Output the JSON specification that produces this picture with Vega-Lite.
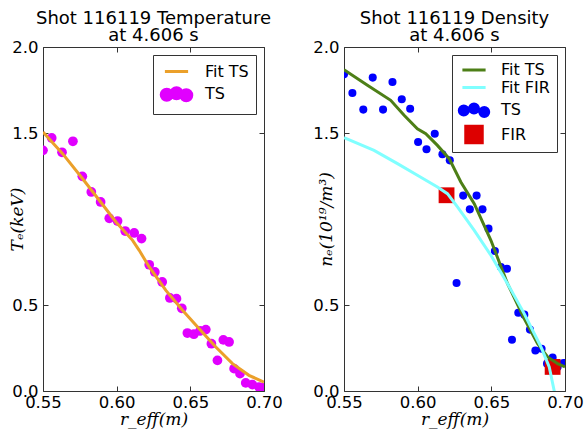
{
  "$schema": "https://vega.github.io/schema/vega-lite/v6.json",
  "padding": {"left": 8, "top": 9, "right": 5, "bottom": 4},
  "spacing": 29,
  "config": {
    "font": "DejaVu Sans",
    "view": {"stroke": "#333333", "strokeWidth": 1},
    "axis": {
      "grid": false, "domain": false, "tickSize": -5, "tickColor": "#333333", "tickWidth": 1,
      "labelFont": "DejaVu Sans", "labelFontSize": 16.5, "labelColor": "#000000",
      "labelFlush": false, "labelOverlap": false, "labelBound": false,
      "titleFont": "DejaVu Serif", "titleFontStyle": "italic", "titleFontWeight": "normal",
      "titleFontSize": 17, "titleColor": "#000000"
    },
    "axisX": {"labelPadding": 8, "titlePadding": 1},
    "axisY": {"labelPadding": 10},
    "title": {"fontSize": 18, "fontWeight": "normal", "font": "DejaVu Sans", "color": "#000000", "anchor": "middle", "frame": "group", "lineHeight": 17.5, "offset": -6},
    "legend": {
      "orient": "top-right", "offset": 8, "fillColor": "white", "strokeColor": "#333333",
      "padding": 7, "labelFont": "DejaVu Sans", "labelFontSize": 16, "labelColor": "#000000",
      "symbolSize": 256, "rowPadding": 1.5, "symbolOffset": 7, "labelOffset": 19, "title": null
    }
  },
  "datasets": {
    "temp": [
      {"series": "TS", "r": 0.550, "v": 1.399},
      {"series": "TS", "r": 0.5559, "v": 1.471},
      {"series": "TS", "r": 0.5629, "v": 1.388},
      {"series": "TS", "r": 0.5703, "v": 1.452},
      {"series": "TS", "r": 0.5767, "v": 1.248},
      {"series": "TS", "r": 0.5828, "v": 1.157},
      {"series": "TS", "r": 0.5891, "v": 1.099},
      {"series": "TS", "r": 0.5950, "v": 1.004},
      {"series": "TS", "r": 0.6006, "v": 0.988},
      {"series": "TS", "r": 0.6058, "v": 0.930},
      {"series": "TS", "r": 0.6119, "v": 0.919},
      {"series": "TS", "r": 0.6169, "v": 0.886},
      {"series": "TS", "r": 0.6221, "v": 0.734},
      {"series": "TS", "r": 0.6259, "v": 0.692},
      {"series": "TS", "r": 0.6309, "v": 0.634},
      {"series": "TS", "r": 0.6361, "v": 0.541},
      {"series": "TS", "r": 0.6406, "v": 0.537},
      {"series": "TS", "r": 0.6442, "v": 0.481},
      {"series": "TS", "r": 0.6480, "v": 0.337},
      {"series": "TS", "r": 0.6524, "v": 0.330},
      {"series": "TS", "r": 0.6566, "v": 0.349},
      {"series": "TS", "r": 0.6605, "v": 0.357},
      {"series": "TS", "r": 0.6643, "v": 0.275},
      {"series": "TS", "r": 0.6684, "v": 0.178},
      {"series": "TS", "r": 0.6724, "v": 0.297},
      {"series": "TS", "r": 0.6763, "v": 0.285},
      {"series": "TS", "r": 0.6797, "v": 0.130},
      {"series": "TS", "r": 0.6837, "v": 0.101},
      {"series": "TS", "r": 0.6876, "v": 0.047},
      {"series": "TS", "r": 0.6921, "v": 0.037},
      {"series": "TS", "r": 0.6966, "v": 0.023},
      {"series": "TS", "r": 0.6989, "v": 0.019},
      {"series": "Fit TS", "r": 0.550, "v": 1.506},
      {"series": "Fit TS", "r": 0.5633, "v": 1.380},
      {"series": "Fit TS", "r": 0.5769, "v": 1.234},
      {"series": "Fit TS", "r": 0.5882, "v": 1.109},
      {"series": "Fit TS", "r": 0.5995, "v": 0.983},
      {"series": "Fit TS", "r": 0.6108, "v": 0.876},
      {"series": "Fit TS", "r": 0.6153, "v": 0.818},
      {"series": "Fit TS", "r": 0.6221, "v": 0.721},
      {"series": "Fit TS", "r": 0.6334, "v": 0.585},
      {"series": "Fit TS", "r": 0.6447, "v": 0.469},
      {"series": "Fit TS", "r": 0.6560, "v": 0.362},
      {"series": "Fit TS", "r": 0.6673, "v": 0.256},
      {"series": "Fit TS", "r": 0.6786, "v": 0.159},
      {"series": "Fit TS", "r": 0.6898, "v": 0.091},
      {"series": "Fit TS", "r": 0.700, "v": 0.052}
    ],
    "dens": [
      {"series": "TS", "r": 0.550, "v": 1.841},
      {"series": "TS", "r": 0.5557, "v": 1.733},
      {"series": "TS", "r": 0.5631, "v": 1.636},
      {"series": "TS", "r": 0.5695, "v": 1.822},
      {"series": "TS", "r": 0.5765, "v": 1.636},
      {"series": "TS", "r": 0.5829, "v": 1.797},
      {"series": "TS", "r": 0.5892, "v": 1.696},
      {"series": "TS", "r": 0.5949, "v": 1.641},
      {"series": "TS", "r": 0.6003, "v": 1.448},
      {"series": "TS", "r": 0.6060, "v": 1.405},
      {"series": "TS", "r": 0.6116, "v": 1.496},
      {"series": "TS", "r": 0.6168, "v": 1.376},
      {"series": "TS", "r": 0.6218, "v": 1.341},
      {"series": "TS", "r": 0.6264, "v": 0.628},
      {"series": "TS", "r": 0.6309, "v": 1.136},
      {"series": "TS", "r": 0.6354, "v": 1.056},
      {"series": "TS", "r": 0.6400, "v": 1.136},
      {"series": "TS", "r": 0.6440, "v": 1.056},
      {"series": "TS", "r": 0.6481, "v": 0.944},
      {"series": "TS", "r": 0.6524, "v": 0.814},
      {"series": "TS", "r": 0.6565, "v": 0.721},
      {"series": "TS", "r": 0.6606, "v": 0.711},
      {"series": "TS", "r": 0.6640, "v": 0.298},
      {"series": "TS", "r": 0.6683, "v": 0.455},
      {"series": "TS", "r": 0.6724, "v": 0.444},
      {"series": "TS", "r": 0.6762, "v": 0.357},
      {"series": "TS", "r": 0.6799, "v": 0.236},
      {"series": "TS", "r": 0.6841, "v": 0.246},
      {"series": "TS", "r": 0.6878, "v": 0.159},
      {"series": "TS", "r": 0.6916, "v": 0.194},
      {"series": "TS", "r": 0.6950, "v": 0.140},
      {"series": "TS", "r": 0.6990, "v": 0.163},
      {"series": "FIR", "r": 0.6196, "v": 1.138},
      {"series": "FIR", "r": 0.6916, "v": 0.140},
      {"series": "Fit TS", "r": 0.550, "v": 1.868},
      {"series": "Fit TS", "r": 0.5659, "v": 1.777},
      {"series": "Fit TS", "r": 0.5817, "v": 1.690},
      {"series": "Fit TS", "r": 0.5908, "v": 1.603},
      {"series": "Fit TS", "r": 0.5998, "v": 1.525},
      {"series": "Fit TS", "r": 0.6055, "v": 1.496},
      {"series": "Fit TS", "r": 0.6134, "v": 1.428},
      {"series": "Fit TS", "r": 0.6214, "v": 1.351},
      {"series": "Fit TS", "r": 0.6293, "v": 1.215},
      {"series": "Fit TS", "r": 0.6384, "v": 1.089},
      {"series": "Fit TS", "r": 0.6497, "v": 0.876},
      {"series": "Fit TS", "r": 0.6610, "v": 0.624},
      {"series": "Fit TS", "r": 0.6723, "v": 0.421},
      {"series": "Fit TS", "r": 0.6814, "v": 0.275},
      {"series": "Fit TS", "r": 0.6882, "v": 0.198},
      {"series": "Fit TS", "r": 0.6950, "v": 0.159},
      {"series": "Fit TS", "r": 0.700, "v": 0.140},
      {"series": "Fit FIR", "r": 0.550, "v": 1.473},
      {"series": "Fit FIR", "r": 0.5704, "v": 1.399},
      {"series": "Fit FIR", "r": 0.5863, "v": 1.322},
      {"series": "Fit FIR", "r": 0.5998, "v": 1.254},
      {"series": "Fit FIR", "r": 0.6134, "v": 1.186},
      {"series": "Fit FIR", "r": 0.6202, "v": 1.147},
      {"series": "Fit FIR", "r": 0.6270, "v": 1.070},
      {"series": "Fit FIR", "r": 0.6384, "v": 0.934},
      {"series": "Fit FIR", "r": 0.6497, "v": 0.789},
      {"series": "Fit FIR", "r": 0.6610, "v": 0.624},
      {"series": "Fit FIR", "r": 0.6723, "v": 0.450},
      {"series": "Fit FIR", "r": 0.6837, "v": 0.256},
      {"series": "Fit FIR", "r": 0.6893, "v": 0.140},
      {"series": "Fit FIR", "r": 0.6927, "v": 0.0},
      {"series": "Fit FIR", "r": 0.6950, "v": -0.1}
    ]
  },
  "resolve": {"scale": {"color": "independent"}, "legend": {"color": "independent"}},
  "hconcat": [
    {
      "width": 221, "height": 344,
      "title": {"text": ["Shot 116119 Temperature", "at 4.606 s"]},
      "data": {"name": "temp"},
      "resolve": {"axis": {"x": "independent", "y": "independent"}},
      "layer": [
        {
          "transform": [{"filter": "datum.series == 'TS'"}],
          "mark": {"type": "point", "filled": true, "size": 95, "opacity": 1, "clip": true},
          "encoding": {
            "x": {"field": "r", "type": "quantitative", "scale": {"domain": [0.55, 0.7], "nice": false, "zero": false},
                  "axis": {"title": "r_eff(m)", "values": [0.55, 0.6, 0.65, 0.7], "format": ".2f"}},
            "y": {"field": "v", "type": "quantitative", "scale": {"domain": [0, 2], "nice": false},
                  "axis": {"title": "Tₑ(keV)", "values": [0, 0.5, 1.5, 2], "format": ".1f", "titlePadding": -15}},
            "color": {"field": "series", "type": "nominal",
                      "scale": {"domain": ["Fit TS", "TS"], "range": ["#eba02a", "#e100ff"]},
                      "legend": {"encode": {"symbols": {"update": {
                        "shape": {"signal": "datum.value == 'TS' ? 'M-1.91,0.1A0.69,0.69 0 1,0 -0.53,0.1A0.69,0.69 0 1,0 -1.91,0.1Z M-0.69,-0.1A0.69,0.69 0 1,0 0.69,-0.1A0.69,0.69 0 1,0 -0.69,-0.1Z M0.53,0.15A0.69,0.69 0 1,0 1.91,0.15A0.69,0.69 0 1,0 0.53,0.15Z' : 'M-1.45,0L1.45,0'"},
                        "fill": {"signal": "datum.value == 'TS' ? '#e100ff' : 'transparent'"},
                        "stroke": {"signal": "datum.value == 'TS' ? 'transparent' : '#eba02a'"},
                        "strokeWidth": {"value": 3},
                        "opacity": {"value": 1},
                        "fillOpacity": {"value": 1},
                        "strokeOpacity": {"value": 1}
                      }}}}}
          }
        },
        {
          "transform": [{"filter": "datum.series == 'Fit TS'"}],
          "mark": {"type": "line", "strokeWidth": 3, "clip": true},
          "encoding": {
            "x": {"field": "r", "type": "quantitative", "scale": {"domain": [0.55, 0.7], "nice": false, "zero": false},
                  "axis": {"orient": "top", "labels": false, "title": null, "values": [0.55, 0.6, 0.65, 0.7]}},
            "y": {"field": "v", "type": "quantitative", "scale": {"domain": [0, 2], "nice": false},
                  "axis": {"orient": "right", "labels": false, "title": null, "values": [0, 0.5, 1.5, 2]}},
            "color": {"field": "series", "type": "nominal",
                      "legend": {"encode": {"symbols": {"update": {
                        "shape": {"signal": "datum.value == 'TS' ? 'M-1.91,0.1A0.69,0.69 0 1,0 -0.53,0.1A0.69,0.69 0 1,0 -1.91,0.1Z M-0.69,-0.1A0.69,0.69 0 1,0 0.69,-0.1A0.69,0.69 0 1,0 -0.69,-0.1Z M0.53,0.15A0.69,0.69 0 1,0 1.91,0.15A0.69,0.69 0 1,0 0.53,0.15Z' : 'M-1.45,0L1.45,0'"},
                        "fill": {"signal": "datum.value == 'TS' ? '#e100ff' : 'transparent'"},
                        "stroke": {"signal": "datum.value == 'TS' ? 'transparent' : '#eba02a'"},
                        "strokeWidth": {"value": 3},
                        "opacity": {"value": 1},
                        "fillOpacity": {"value": 1},
                        "strokeOpacity": {"value": 1}
                      }}}}}
          }
        }
      ]
    },
    {
      "width": 221, "height": 344,
      "title": {"text": ["Shot 116119 Density", "at 4.606 s"]},
      "data": {"name": "dens"},
      "resolve": {"axis": {"x": "independent", "y": "independent"}},
      "layer": [
        {
          "transform": [{"filter": "datum.series == 'TS'"}],
          "mark": {"type": "point", "shape": "circle", "filled": true, "size": 65, "opacity": 1, "clip": true},
          "encoding": {
            "x": {"field": "r", "type": "quantitative", "scale": {"domain": [0.55, 0.7], "nice": false, "zero": false},
                  "axis": {"title": "r_eff(m)", "values": [0.55, 0.6, 0.65, 0.7], "format": ".2f"}},
            "y": {"field": "v", "type": "quantitative", "scale": {"domain": [0, 2], "nice": false},
                  "axis": {"title": "nₑ(10¹⁹/m³)", "values": [0, 0.5, 1.5, 2], "format": ".1f", "titlePadding": -23}},
            "color": {"field": "series", "type": "nominal",
                      "scale": {"domain": ["Fit TS", "Fit FIR", "TS", "FIR"], "range": ["#4d7f17", "#80ffff", "#0000ff", "#dd0000"]},
                      "legend": {"encode": {"symbols": {"update": {
                        "shape": {"signal": "datum.value == 'TS' ? 'M-1.84,0.05A0.56,0.56 0 1,0 -0.72,0.05A0.56,0.56 0 1,0 -1.84,0.05Z M-0.56,-0.2A0.56,0.56 0 1,0 0.56,-0.2A0.56,0.56 0 1,0 -0.56,-0.2Z M0.72,0.25A0.56,0.56 0 1,0 1.84,0.25A0.56,0.56 0 1,0 0.72,0.25Z' : datum.value == 'FIR' ? 'square' : 'M-1.45,0L1.45,0'"},
                        "size": {"signal": "datum.value == 'FIR' ? 380 : 256"},
                        "fill": {"signal": "datum.value == 'TS' ? '#0000ff' : datum.value == 'FIR' ? '#dd0000' : 'transparent'"},
                        "stroke": {"signal": "datum.value == 'Fit TS' ? '#4d7f17' : datum.value == 'Fit FIR' ? '#80ffff' : 'transparent'"},
                        "strokeWidth": {"signal": "datum.value == 'FIR' ? 0 : 3"},
                        "opacity": {"value": 1},
                        "fillOpacity": {"value": 1},
                        "strokeOpacity": {"value": 1}
                      }}}}}
          }
        },
        {
          "transform": [{"filter": "datum.series == 'FIR'"}],
          "mark": {"type": "point", "shape": "square", "filled": true, "size": 250, "opacity": 1, "clip": true},
          "encoding": {
            "x": {"field": "r", "type": "quantitative", "scale": {"domain": [0.55, 0.7], "nice": false, "zero": false}, "axis": null},
            "y": {"field": "v", "type": "quantitative", "scale": {"domain": [0, 2], "nice": false}, "axis": null},
            "color": {"field": "series", "type": "nominal",
                      "legend": {"encode": {"symbols": {"update": {
                        "shape": {"signal": "datum.value == 'TS' ? 'M-1.84,0.05A0.56,0.56 0 1,0 -0.72,0.05A0.56,0.56 0 1,0 -1.84,0.05Z M-0.56,-0.2A0.56,0.56 0 1,0 0.56,-0.2A0.56,0.56 0 1,0 -0.56,-0.2Z M0.72,0.25A0.56,0.56 0 1,0 1.84,0.25A0.56,0.56 0 1,0 0.72,0.25Z' : datum.value == 'FIR' ? 'square' : 'M-1.45,0L1.45,0'"},
                        "size": {"signal": "datum.value == 'FIR' ? 380 : 256"},
                        "fill": {"signal": "datum.value == 'TS' ? '#0000ff' : datum.value == 'FIR' ? '#dd0000' : 'transparent'"},
                        "stroke": {"signal": "datum.value == 'Fit TS' ? '#4d7f17' : datum.value == 'Fit FIR' ? '#80ffff' : 'transparent'"},
                        "strokeWidth": {"signal": "datum.value == 'FIR' ? 0 : 3"},
                        "opacity": {"value": 1},
                        "fillOpacity": {"value": 1},
                        "strokeOpacity": {"value": 1}
                      }}}}}
          }
        },
        {
          "transform": [{"filter": "datum.series == 'Fit TS'"}],
          "mark": {"type": "line", "strokeWidth": 3, "clip": true},
          "encoding": {
            "x": {"field": "r", "type": "quantitative", "scale": {"domain": [0.55, 0.7], "nice": false, "zero": false}, "axis": null},
            "y": {"field": "v", "type": "quantitative", "scale": {"domain": [0, 2], "nice": false}, "axis": null},
            "color": {"field": "series", "type": "nominal",
                      "legend": {"encode": {"symbols": {"update": {
                        "shape": {"signal": "datum.value == 'TS' ? 'M-1.84,0.05A0.56,0.56 0 1,0 -0.72,0.05A0.56,0.56 0 1,0 -1.84,0.05Z M-0.56,-0.2A0.56,0.56 0 1,0 0.56,-0.2A0.56,0.56 0 1,0 -0.56,-0.2Z M0.72,0.25A0.56,0.56 0 1,0 1.84,0.25A0.56,0.56 0 1,0 0.72,0.25Z' : datum.value == 'FIR' ? 'square' : 'M-1.45,0L1.45,0'"},
                        "size": {"signal": "datum.value == 'FIR' ? 380 : 256"},
                        "fill": {"signal": "datum.value == 'TS' ? '#0000ff' : datum.value == 'FIR' ? '#dd0000' : 'transparent'"},
                        "stroke": {"signal": "datum.value == 'Fit TS' ? '#4d7f17' : datum.value == 'Fit FIR' ? '#80ffff' : 'transparent'"},
                        "strokeWidth": {"signal": "datum.value == 'FIR' ? 0 : 3"},
                        "opacity": {"value": 1},
                        "fillOpacity": {"value": 1},
                        "strokeOpacity": {"value": 1}
                      }}}}}
          }
        },
        {
          "transform": [{"filter": "datum.series == 'Fit FIR'"}],
          "mark": {"type": "line", "strokeWidth": 3, "clip": true},
          "encoding": {
            "x": {"field": "r", "type": "quantitative", "scale": {"domain": [0.55, 0.7], "nice": false, "zero": false},
                  "axis": {"orient": "top", "labels": false, "title": null, "values": [0.55, 0.6, 0.65, 0.7]}},
            "y": {"field": "v", "type": "quantitative", "scale": {"domain": [0, 2], "nice": false},
                  "axis": {"orient": "right", "labels": false, "title": null, "values": [0, 0.5, 1.5, 2]}},
            "color": {"field": "series", "type": "nominal",
                      "legend": {"encode": {"symbols": {"update": {
                        "shape": {"signal": "datum.value == 'TS' ? 'M-1.84,0.05A0.56,0.56 0 1,0 -0.72,0.05A0.56,0.56 0 1,0 -1.84,0.05Z M-0.56,-0.2A0.56,0.56 0 1,0 0.56,-0.2A0.56,0.56 0 1,0 -0.56,-0.2Z M0.72,0.25A0.56,0.56 0 1,0 1.84,0.25A0.56,0.56 0 1,0 0.72,0.25Z' : datum.value == 'FIR' ? 'square' : 'M-1.45,0L1.45,0'"},
                        "size": {"signal": "datum.value == 'FIR' ? 380 : 256"},
                        "fill": {"signal": "datum.value == 'TS' ? '#0000ff' : datum.value == 'FIR' ? '#dd0000' : 'transparent'"},
                        "stroke": {"signal": "datum.value == 'Fit TS' ? '#4d7f17' : datum.value == 'Fit FIR' ? '#80ffff' : 'transparent'"},
                        "strokeWidth": {"signal": "datum.value == 'FIR' ? 0 : 3"},
                        "opacity": {"value": 1},
                        "fillOpacity": {"value": 1},
                        "strokeOpacity": {"value": 1}
                      }}}}}
          }
        }
      ]
    }
  ]
}
